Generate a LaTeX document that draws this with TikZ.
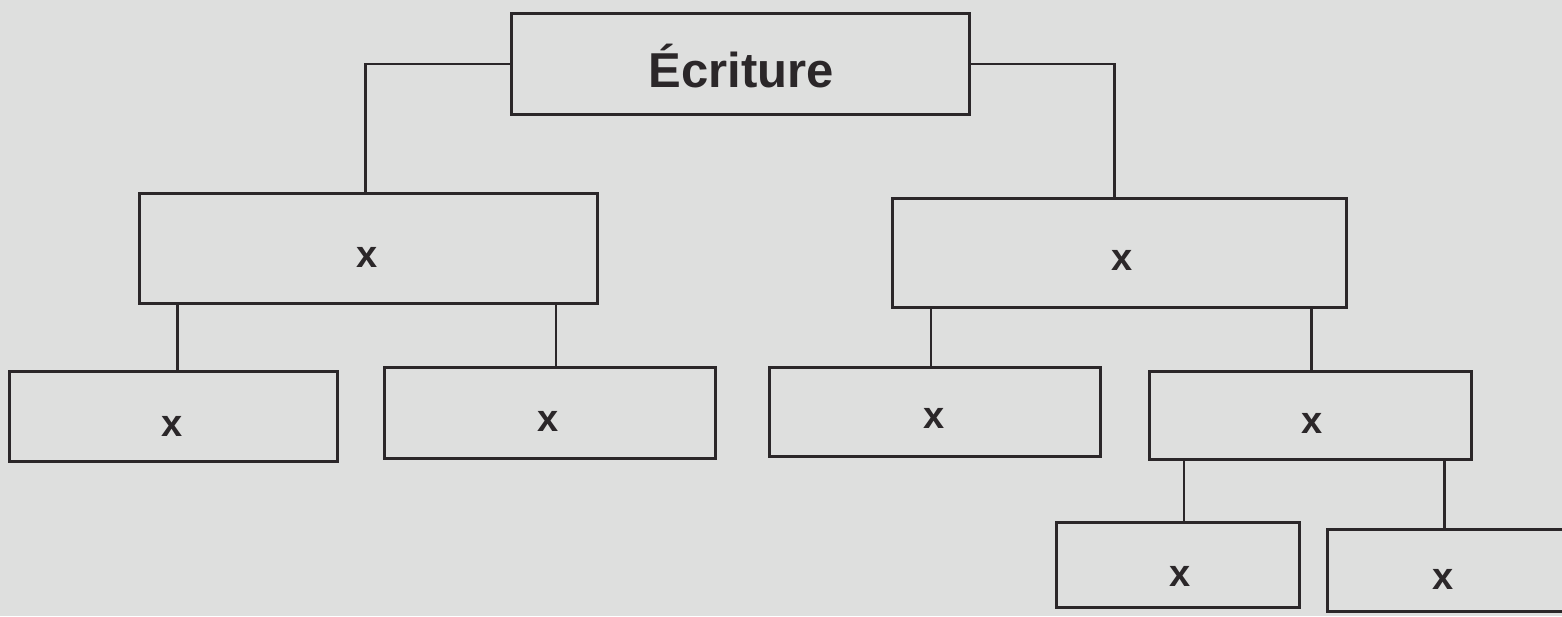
\documentclass[tikz,border=0pt]{standalone}
\usepackage{fontspec}
\setmainfont{Liberation Sans}
\definecolor{paper}{HTML}{DEDFDE}
\definecolor{ink}{HTML}{2B2729}
\begin{document}
\begin{tikzpicture}[x=1pt,y=-1pt,
  box/.style={draw=ink,line width=2.8pt,fill=paper,rectangle,inner sep=0pt,anchor=north west},
  conn/.style={draw=ink,line width=2.6pt},
  lbl/.style={text=ink,font=\fontsize{38}{44}\selectfont\bfseries}]
\useasboundingbox[fill=paper] (0,0) rectangle (1562,616);
\begin{scope}
\clip (0,0) rectangle (1562,616);
\node[box,minimum width=458pt,minimum height=101pt] (root) at (510,12) {};
\node[box,minimum width=458pt,minimum height=110pt] (lm) at (138,192) {};
\node[box,minimum width=454pt,minimum height=109pt] (rm) at (891,197) {};
\node[box,minimum width=328pt,minimum height=90pt] (a) at (8,370) {};
\node[box,minimum width=331pt,minimum height=91pt] (b) at (383,366) {};
\node[box,minimum width=331pt,minimum height=89pt] (c) at (768,366) {};
\node[box,minimum width=322pt,minimum height=88pt] (d) at (1148,370) {};
\node[box,minimum width=243pt,minimum height=85pt] (e) at (1055,521) {};
\node[box,minimum width=244pt,minimum height=82pt] (f) at (1326,528) {};
\node[lbl,font=\fontsize{49}{56}\selectfont\bfseries] (troot) at (741,66) {Écriture};
\node[lbl] (tlm) at (367,257) {x};
\node[lbl] (trm) at (1122,260) {x};
\node[lbl] (ta) at (172,426) {x};
\node[lbl] (tb) at (548,421) {x};
\node[lbl] (tc) at (934,418) {x};
\node[lbl] (td) at (1312,423) {x};
\node[lbl] (te) at (1180,576) {x};
\node[lbl] (tf) at (1443,579) {x};
\draw[conn] (root.west) -| ([xshift=-3pt]lm.north);
\draw[conn] (root.east) -| ([xshift=-5pt]rm.north);
\draw[conn] ([xshift=4pt]a.north) -- ([xshift=4pt]a.north |- lm.south);
\draw[conn] ([xshift=6pt]b.north) -- ([xshift=6pt]b.north |- lm.south);
\draw[conn] ([xshift=-4pt]c.north) -- ([xshift=-4pt]c.north |- rm.south);
\draw[conn] ([xshift=1pt]d.north) -- ([xshift=1pt]d.north |- rm.south);
\draw[conn] ([xshift=6pt]e.north) -- ([xshift=6pt]e.north |- d.south);
\draw[conn] ([xshift=-5pt]f.north) -- ([xshift=-5pt]f.north |- d.south);
\end{scope}
\end{tikzpicture}
\end{document}
